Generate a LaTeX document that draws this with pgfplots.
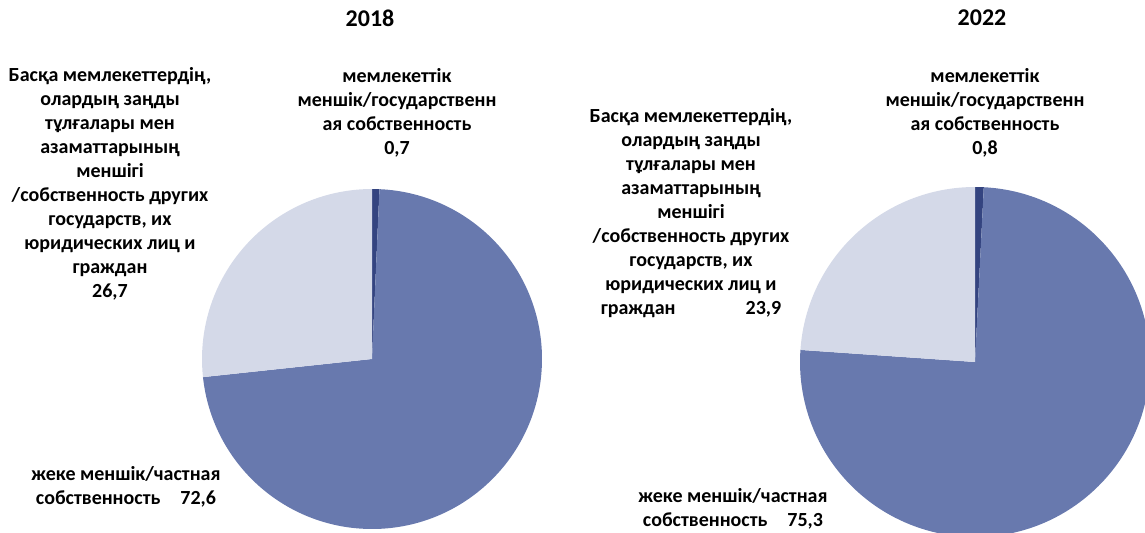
\documentclass[border=0pt]{standalone}
\usepackage{fontspec}
\setmainfont{Carlito}
\usepackage{pgfplots}
\usepackage{pgfplotstable}
\pgfplotsset{compat=1.18}
\definecolor{statec}{RGB}{52,68,128}
\definecolor{privatec}{RGB}{104,121,174}
\definecolor{foreignc}{RGB}{212,217,232}

% shares in percent, clockwise from 12 o'clock
\pgfplotstableread{
value colour
0.7 statec
72.6 privatec
26.7 foreignc
}\pieA
\pgfplotstableread{
value colour
0.8 statec
75.3 privatec
23.9 foreignc
}\pieB

% #1 table, #2 cx, #3 cy, #4 radius (axis units, 1 unit = 0.5pt)
\newcommand\drawpie[4]{%
  \def\cum{0}%
  \pgfplotstablegetrowsof{#1}%
  \pgfmathtruncatemacro\nrows{\pgfplotsretval-1}%
  \pgfplotsforeachungrouped \i in {0,...,\nrows}{%
    \pgfplotstablegetelem{\i}{value}\of{#1}\let\val\pgfplotsretval
    \pgfplotstablegetelem{\i}{colour}\of{#1}\let\col\pgfplotsretval
    \pgfmathsetmacro\sa{90-3.6*\cum}%
    \pgfmathsetmacro\ea{90-3.6*(\cum+\val)}%
    \pgfmathsetmacro\cum{\cum+\val}%
    \edef\doslice{\noexpand\fill[\col] (axis cs:#2,#3) -- ++(\sa:#4*0.5pt)
      arc[start angle=\sa, end angle=\ea, radius=#4*0.5pt] -- cycle;}%
    \doslice
  }%
}

\pgfplotsset{
  piebox/.style={
    scale only axis, width=286.25pt, height=266pt,
    ymin=0, ymax=532, hide axis,
  },
}
\tikzset{
  lbl/.style={align=center, font=\bfseries\fontsize{10}{12}\selectfont},
  ttl/.style={font=\bfseries\fontsize{12}{14}\selectfont},
}

\begin{document}
\begin{tikzpicture}
\begin{axis}[piebox, xmin=0, xmax=572.5]
\drawpie{\pieA}{372}{173}{170}
\node[ttl] at (axis cs:370,514) {2018};
\node[lbl] at (axis cs:397,419) {мемлекеттік\\меншік/государственн\\ая собственность\\0,7};
\node[lbl] at (axis cs:110,348) {Басқа мемлекеттердің,\\олардың заңды\\тұлғалары мен\\азаматтарының\\меншігі\\/собственность других\\государств, их\\юридических лиц и\\граждан\\26,7};
\node[lbl] at (axis cs:126,45.5) {жеке меншік/частная\\собственность\quad 72,6};
\end{axis}
\begin{axis}[piebox, at={(286.25pt,0)}, xmin=572.5, xmax=1145]
\drawpie{\pieB}{975}{170}{175}
\node[ttl] at (axis cs:982,514) {2022};
\node[lbl] at (axis cs:985,419) {мемлекеттік\\меншік/государственн\\ая собственность\\0,8};
\node[lbl] at (axis cs:691,318.5) {Басқа мемлекеттердің,\\олардың заңды\\тұлғалары мен\\азаматтарының\\меншігі\\/собственность других\\государств, их\\юридических лиц и\\граждан\hspace{3.5em}23,9};
\node[lbl] at (axis cs:733,23) {жеке меншік/частная\\собственность\quad 75,3};
\end{axis}
\pgfresetboundingbox
\useasboundingbox (0,0) rectangle (572.5pt,266pt);
\end{tikzpicture}
\end{document}
